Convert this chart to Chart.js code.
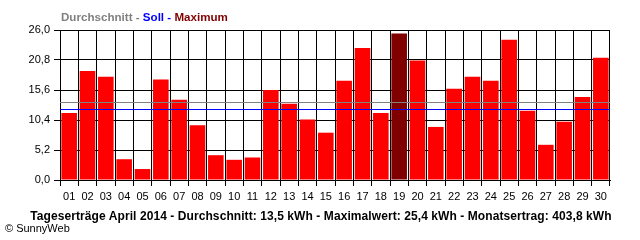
<!DOCTYPE html>
<html>
<head>
<meta charset="utf-8">
<script src="https://cdn.jsdelivr.net/npm/chart.js@4"></script>
<style>
  body { margin: 0; background: #fff; }
  #wrap { position: relative; width: 640px; height: 240px; font-family: "Liberation Sans", Arial, sans-serif; }
  #head { position: absolute; left: 61px; top: 10px; font-size: 11.6px; font-weight: bold; line-height: 13px; white-space: nowrap; }
  #foot { position: absolute; left: 0; width: 642px; top: 209px; text-align: center; font-size: 12px; font-weight: bold; line-height: 14px; letter-spacing: 0.08px; white-space: nowrap; }
  #copy { position: absolute; left: 5px; top: 222px; font-size: 11px; line-height: 13px; white-space: nowrap; }
</style>
</head>
<body>
<div id="wrap">
  <canvas id="graphic" width="640" height="240"></canvas>
  <div id="head"><span style="color:#808080">Durchschnitt - </span><span style="color:#0000ff">Soll - </span><span style="color:#800000">Maximum</span></div>
  <div id="foot">Tageserträge April 2014 - Durchschnitt: 13,5 kWh - Maximalwert: 25,4 kWh - Monatsertrag: 403,8 kWh</div>
  <div id="copy">© SunnyWeb</div>
</div>
<script>
const days = ['01', '02', '03', '04', '05', '06', '07', '08', '09', '10',
  '11', '12', '13', '14', '15', '16', '17', '18', '19', '20',
  '21', '22', '23', '24', '25', '26', '27', '28', '29', '30'];
const yields = [11.6, 18.9, 17.9, 3.6, 1.9, 17.4, 13.9, 9.5, 4.3, 3.5,
  3.9, 15.6, 13.2, 10.5, 8.2, 17.2, 22.9, 11.6, 25.4, 20.7,
  9.2, 15.8, 17.9, 17.2, 24.3, 12.0, 6.1, 10.1, 14.4, 21.2];
const yTicks = [0, 5.2, 10.4, 15.6, 20.8, 26.0];
const average = 13.5; // Durchschnitt
const target = 12.25; // Soll

const maxYield = Math.max(...yields);
const graphic = document.getElementById('graphic');

// grey / blue lines over the bars
const refLines = {
  id: 'refLines',
  afterDatasetsDraw(chart) {
    const ctx = chart.ctx;
    const area = chart.chartArea;
    const y = chart.scales.y;
    [[average, '#808080'], [target, '#0000ff']].forEach(([v, col]) => {
      const py = Math.round(y.getPixelForValue(v)) + 0.5;
      ctx.save();
      ctx.strokeStyle = col;
      ctx.lineWidth = 1;
      ctx.beginPath();
      ctx.moveTo(area.left, py);
      ctx.lineTo(area.right, py);
      ctx.stroke();
      ctx.restore();
    });
  }
};

new Chart(graphic, {
  type: 'bar',
  data: {
    labels: days,
    datasets: [
      {
        data: yields,
        backgroundColor: yields.map(v => (v === maxYield ? '#800000' : '#ff0000')),
        borderWidth: 0,
        barPercentage: 0.85,
        categoryPercentage: 1,
      },
    ],
  },
  options: {
    responsive: false,
    animation: false,
    events: [],
    layout: { padding: { top: 30, right: 30, left: 0, bottom: 0 } },
    plugins: { legend: { display: false }, tooltip: { enabled: false } },
    scales: {
      x: {
        grid: { offset: true, color: '#000', lineWidth: 1, tickLength: 6 },
        border: { color: '#000' },
        ticks: {
          color: '#000',
          font: { family: 'Liberation Sans', size: 11 },
          maxRotation: 0,
          autoSkip: false,
          padding: 4,
        },
        afterFit: s => { s.height = 60; },
      },
      y: {
        min: 0,
        max: 26,
        grid: { color: '#000', lineWidth: 1, tickLength: 6 },
        border: { color: '#000' },
        afterBuildTicks: s => { s.ticks = yTicks.map(v => ({ value: v })); },
        ticks: {
          color: '#000',
          font: { family: 'Liberation Sans', size: 11 },
          padding: 4,
          callback: v => v.toFixed(1).replace('.', ','),
        },
        afterFit: s => { s.width = 60; },
      },
    },
  },
  plugins: [refLines],
});
</script>
</body>
</html>
